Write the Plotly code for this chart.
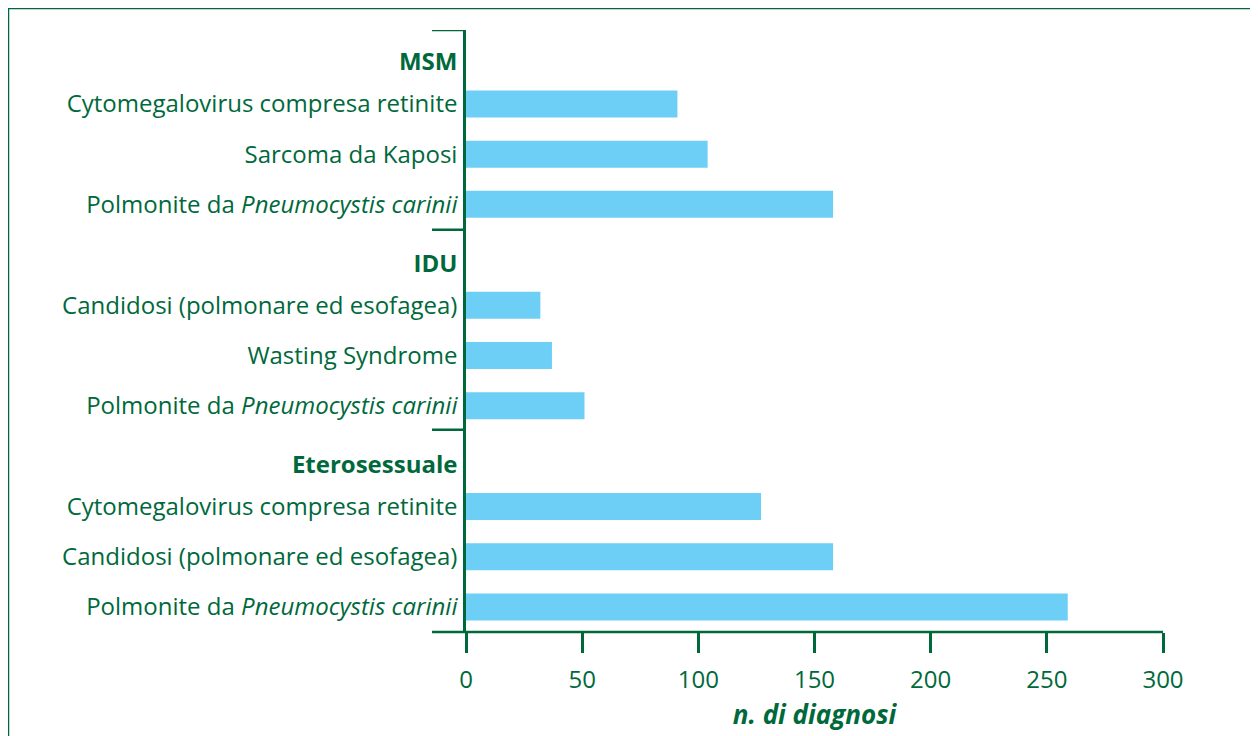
import plotly.graph_objects as go

# gruppi di trasmissione e patologie (dall'alto verso il basso)
groups = ['MSM', 'IDU', 'Eterosessuale']
diseases = [
    ['Cytomegalovirus compresa retinite', 'Sarcoma da Kaposi',
     'Polmonite da <i>Pneumocystis carinii</i>'],
    ['Candidosi (polmonare ed esofagea)', 'Wasting Syndrome',
     'Polmonite da <i>Pneumocystis carinii</i>'],
    ['Cytomegalovirus compresa retinite', 'Candidosi (polmonare ed esofagea)',
     'Polmonite da <i>Pneumocystis carinii</i>'],
]
diagnosi = [
    [91, 104, 158],
    [32, 37, 51],
    [127, 158, 259],
]
x_ticks = [0, 50, 100, 150, 200, 250, 300]

GREEN = '#00693c'
BLUE = '#6dcff6'
FONT = 'Open Sans'

# la pagina aggiunge 8px di margine
W, H = 1250, 728
ML, MR, MT, MB = 458, 95, 22, 104
pw = W - ML - MR
ph = H - MT - MB

GSTEP = 4.03
ys, xs, tickvals, ticktext = [], [], [], []
for g, name in enumerate(groups):
    base = GSTEP * g
    tickvals.append(base)
    ticktext.append('<b>' + name + '</b>')
    for i, (d, v) in enumerate(zip(diseases[g], diagnosi[g])):
        pos = base + 0.84 + 1.005 * i
        ys.append(pos)
        xs.append(v)
        tickvals.append(pos)
        ticktext.append(d)

y_top, y_bot = -0.64, 11.41

fig = go.Figure(go.Bar(
    x=xs, y=ys, orientation='h', width=0.54,
    marker=dict(color=BLUE, line=dict(width=0)),
    hoverinfo='x+y'
))

shapes = []
ext = -34 / pw
# separatori tra gruppi
for g in range(len(groups)):
    yy = GSTEP * g - 0.64 - 0.03 * g
    shapes.append(dict(type='line', xref='paper', yref='y', x0=ext, x1=0,
                       y0=yy, y1=yy, line=dict(color=GREEN, width=2.5)))
# asse x prolungato a sinistra
shapes.append(dict(type='line', xref='paper', yref='paper', x0=ext, x1=1,
                   y0=0, y1=0, line=dict(color=GREEN, width=2.5)))
# cornice
shapes.append(dict(type='rect', xref='paper', yref='paper',
                   x0=(0.5 - ML) / pw, x1=(1248 - ML) / pw,
                   y0=(MT + ph - 745) / ph, y1=(MT + ph - 0.5) / ph,
                   line=dict(color=GREEN, width=1.5)))

fig.update_layout(
    width=W, height=H,
    margin=dict(l=ML, r=MR, t=MT, b=MB),
    plot_bgcolor='white', paper_bgcolor='white',
    showlegend=False,
    font=dict(family=FONT, color=GREEN, size=24),
    shapes=shapes,
    xaxis=dict(
        range=[0, 300], tickvals=x_ticks, showgrid=False, zeroline=False,
        showline=False, ticks='outside', ticklen=20, tickwidth=2.5,
        tickcolor=GREEN, tickfont=dict(size=24, color=GREEN),
        ticklabelstandoff=6,
        title=dict(text='<b><i>n. di diagnosi</i></b>', standoff=12,
                   font=dict(size=26, color=GREEN)),
    ),
    yaxis=dict(
        range=[y_bot, y_top], tickvals=tickvals, ticktext=ticktext,
        showgrid=False, zeroline=False, showline=True, linecolor=GREEN,
        linewidth=2.5, ticks='', ticklabelstandoff=1,
        tickfont=dict(size=24, color=GREEN),
    ),
)

fig.write_html('out.html')
